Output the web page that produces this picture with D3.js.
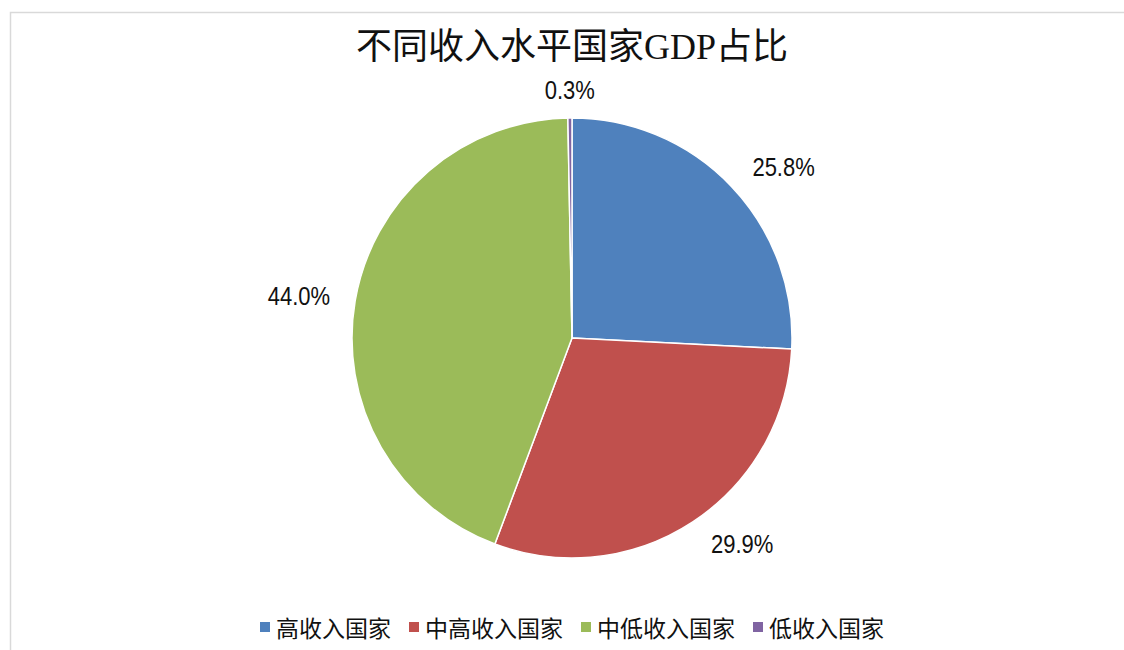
<!DOCTYPE html>
<html>
<head>
<meta charset="utf-8">
<script src="https://cdn.jsdelivr.net/npm/d3@7/dist/d3.min.js"></script>
<style>
  html, body { margin: 0; padding: 0; background: #fff; }
  svg { display: block; }
</style>
</head>
<body>
<svg id="chart" width="1124" height="650"></svg>
<script>
// GDP share by income group (percent)
const categories = ["高收入国家", "中高收入国家", "中低收入国家", "低收入国家"];
const shares = [25.8, 29.9, 44.0, 0.3];
const colors = ["#4F81BD", "#C0504D", "#9BBB59", "#8064A2"];
const titleText = "不同收入水平国家GDP占比";

const W = 1124, H = 650;
const cx = 572, cy = 338, radius = 220;

const svg = d3.select("#chart");

// chart frame
svg.append("rect")
  .attr("x", 10.5).attr("y", 12.5)
  .attr("width", W + 20).attr("height", H + 20)
  .attr("fill", "#fff")
  .attr("stroke", "#d9d9d9")
  .attr("stroke-width", 1.5);

// title
svg.append("text")
  .attr("x", cx).attr("y", 59)
  .attr("text-anchor", "middle")
  .style("font-family", "'Liberation Serif', 'Noto Sans CJK SC', serif")
  .style("font-size", "36px")
  .style("fill", "#111")
  .text(titleText);

const data = categories.map((c, i) => ({ name: c, value: shares[i], color: colors[i] }));

const pie = d3.pie().value(d => d.value).sort(null);
const arc = d3.arc().innerRadius(0).outerRadius(radius);
const arcs = pie(data);

const g = svg.append("g").attr("transform", `translate(${cx},${cy})`);

g.selectAll("path.slice")
  .data(arcs)
  .join("path")
  .attr("class", "slice")
  .attr("d", arc)
  .attr("fill", d => d.data.color)
  .attr("stroke", "#fff")
  .attr("stroke-width", 1.5)
  .attr("stroke-linejoin", "round");

// outside-end value labels
const fmt = d3.format(".1f");
const labelGap = 16;
const labels = g.selectAll("g.lbl")
  .data(arcs)
  .join("g")
  .attr("class", "lbl");

labels.append("text")
  .attr("text-anchor", "middle")
  .attr("dominant-baseline", "central")
  .style("font-family", "'Liberation Sans', Arial, sans-serif")
  .style("font-size", "25px")
  .style("fill", "#111")
  .text(d => fmt(d.data.value) + "%");

labels.each(function(d) {
  const t = d3.select(this).select("text");
  const box = t.node().getBBox();
  const w = box.width * 0.88, h = box.height * 0.8;
  const a = (d.startAngle + d.endAngle) / 2;
  const s = Math.sin(a), c = Math.cos(a);
  const r = radius + labelGap;
  const x = r * s + Math.sign(Math.round(s * 20)) * w * 0.65;
  const y = -r * c - c * h / 2;
  d3.select(this).attr("transform", `translate(${x},${y}) scale(0.88,1)`);
});

// legend
const legend = svg.append("g");
const items = legend.selectAll("g.item")
  .data(data)
  .join("g")
  .attr("class", "item");

items.append("rect")
  .attr("width", 10).attr("height", 10)
  .attr("y", -5)
  .attr("fill", d => d.color);

items.append("text")
  .attr("x", 16)
  .attr("dominant-baseline", "central")
  .style("font-family", "'Noto Sans CJK SC', sans-serif")
  .style("font-size", "23px")
  .style("fill", "#111")
  .text(d => d.name);

let xOff = 0;
const itemGap = 18;
items.each(function() {
  const el = d3.select(this);
  const tw = el.select("text").node().getComputedTextLength();
  el.attr("transform", `translate(${xOff},0)`);
  xOff += 16 + tw + itemGap;
});
const legendWidth = xOff - itemGap;
legend.attr("transform", `translate(${cx - legendWidth / 2},627)`);
</script>
</body>
</html>
